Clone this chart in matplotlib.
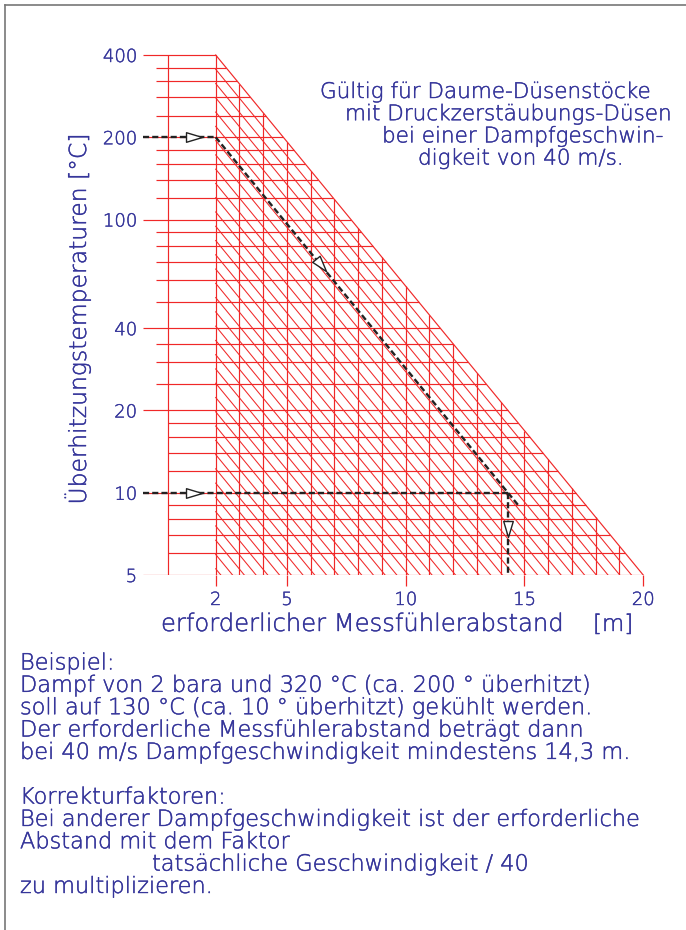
import numpy as np
import matplotlib
matplotlib.use("Agg")
import matplotlib.pyplot as plt
import matplotlib.patheffects as pe
from matplotlib.markers import MarkerStyle
from matplotlib.path import Path
from matplotlib.transforms import Affine2D
from matplotlib.lines import Line2D

# ---------------- data ----------------
temp_ticks = [5, 10, 20, 40, 100, 200, 400]
temp_tick_labels = ["5", "10", "20", "40", "100", "200", "400"]
dist_ticks = [2, 5, 10, 15, 20]
dist_tick_labels = ["2", "5", "10", "15", "20"]

grid_major_temps = [400, 200, 100, 40, 20, 10, 5]
grid_minor_upper = [360, 320, 280, 240, 180, 160, 140, 120,
                    90, 80, 70, 60, 50, 35, 30, 25]
grid_minor_lower = [18, 16, 14, 12, 9, 8, 7, 6]
grid_dists = [0, 2, 3, 4, 5, 6, 7, 8, 9, 10, 11, 12, 13, 14, 15, 16, 17, 18, 19, 20]

boundary_top = (2, 400)      # (distance m, temperature)
boundary_bottom = (20, 5)
hatch_spacing = 0.494        # m between hatch lines

example_in_temp = 200
example_out_temp = 10
example_end_temp = 9
example_arrow_dist = 1.08
example_diag_arrow_dist = 6.43
example_down_arrow_temp = 7.37

RED = "#f02828"
BLUE = "#35359a"
BLACK = "#222222"
FONT = "DejaVu Sans"
WEIGHT = 200
STROKE = [pe.withStroke(linewidth=0.3, foreground=BLUE)]

W, H = 686, 930
fig = plt.figure(figsize=(W / 100, H / 100), dpi=100)

# axes in pixel layout
ax_l, ax_r, ax_t, ax_b = 143, 660, 40, 575
ax = fig.add_axes([ax_l / W, 1 - ax_b / H, (ax_r - ax_l) / W, (ax_b - ax_t) / H])
ax.set_yscale("log")
px_per_m = 23.75
x0_px = 168.2
ax.set_xlim((ax_l - x0_px) / px_per_m, (ax_r - x0_px) / px_per_m)
dec_px = (575 - 55) / np.log10(400 / 5)
ax.set_ylim(5, 10 ** (np.log10(400) + (55 - ax_t) / dec_px))
for s in ax.spines.values():
    s.set_visible(False)
ax.set_facecolor("none")

xl = ax.get_xlim()[0]
k = (np.log10(boundary_top[1]) - np.log10(boundary_bottom[1])) / (boundary_bottom[0] - boundary_top[0])

def x_boundary(T):
    return boundary_top[0] + (np.log10(boundary_top[1]) - np.log10(T)) / k

def T_boundary(x):
    return boundary_top[1] * 10 ** (-k * (x - boundary_top[0]))

lw = 0.85
# horizontal grid lines
for T in grid_major_temps:
    ax.plot([xl, x_boundary(T)], [T, T], color=RED, lw=lw, zorder=1, solid_capstyle="butt")
for T in grid_minor_upper:
    ax.plot([-0.5, x_boundary(T)], [T, T], color=RED, lw=lw, zorder=1, solid_capstyle="butt")
for T in grid_minor_lower:
    ax.plot([0, x_boundary(T)], [T, T], color=RED, lw=lw, zorder=1, solid_capstyle="butt")

# vertical grid lines
for d in grid_dists:
    top = boundary_top[1] if d < boundary_top[0] else T_boundary(d)
    ax.plot([d, d], [boundary_bottom[1], top], color=RED, lw=lw, zorder=1, solid_capstyle="butt")

# boundary
ax.plot([boundary_top[0], boundary_bottom[0]], [boundary_top[1], boundary_bottom[1]],
        color=RED, lw=lw, zorder=1)

# hatch lines parallel to boundary
n = 1
while boundary_bottom[0] - n * hatch_spacing > boundary_top[0]:
    xe = boundary_bottom[0] - n * hatch_spacing
    ts = T_boundary(boundary_top[0] + n * hatch_spacing)
    ax.plot([boundary_top[0], xe], [ts, boundary_bottom[1]], color=RED, lw=0.75, zorder=1)
    n += 1

# x ticks (red tick marks) and y tick labels
ax.set_xticks(dist_ticks, dist_tick_labels)
ax.tick_params(axis="x", length=8.0, width=0.9, color=RED, direction="out",
               pad=3.5, labelsize=13, labelcolor=BLUE)
ax.set_yticks(temp_ticks, temp_tick_labels)
ax.yaxis.set_minor_locator(matplotlib.ticker.NullLocator())
ax.tick_params(axis="y", length=0, pad=4.3, labelsize=13, labelcolor=BLUE)
for lab in ax.get_xticklabels() + ax.get_yticklabels():
    lab.set_fontfamily(FONT)
    lab.set_fontweight(WEIGHT)
    lab.set_path_effects(STROKE)

# example path (dashed)
def x_example(T):
    return boundary_top[0] + (np.log10(example_in_temp) - np.log10(T)) / k

x_corner = x_example(example_out_temp)
dash = (0, (2.6, 1.3))
ex_lw = 1.7
ax.plot([xl, boundary_top[0]], [example_in_temp, example_in_temp], color=BLACK, lw=ex_lw, ls=dash, zorder=3)
ax.plot([boundary_top[0], x_example(example_end_temp)], [example_in_temp, example_end_temp],
        color=BLACK, lw=ex_lw, ls=dash, zorder=3)
ax.plot([xl, x_corner], [example_out_temp, example_out_temp], color=BLACK, lw=ex_lw, ls=dash, zorder=3)
ax.plot([x_corner, x_corner], [example_out_temp, boundary_bottom[1]], color=BLACK, lw=ex_lw, ls=dash, zorder=3)

# arrow heads
tri = Path([(-1, -0.6), (1, 0), (-1, 0.6), (-1, -0.6)],
           [Path.MOVETO, Path.LINETO, Path.LINETO, Path.CLOSEPOLY])
p1 = ax.transData.transform((boundary_top[0], example_in_temp))
p2 = ax.transData.transform((x_corner, example_out_temp))
ang = np.degrees(np.arctan2(p2[1] - p1[1], p2[0] - p1[0]))

def arrow(x, y, a):
    m = MarkerStyle(tri, transform=Affine2D().rotate_deg(a))
    ax.plot([x], [y], marker=m, ms=11.5, mfc="white", mec=BLACK, mew=1.0, ls="none", zorder=4)

arrow(example_arrow_dist, example_in_temp, 0)
arrow(example_arrow_dist, example_out_temp, 0)
arrow(example_diag_arrow_dist, 10 ** (np.log10(example_in_temp) - k * (example_diag_arrow_dist - boundary_top[0])), ang)
arrow(x_corner, example_down_arrow_temp, -90)

# ---------------- texts ----------------
def ftext(px, py, s, size, **kw):
    fig.text(px / W, 1 - py / H, s, fontsize=size, color=BLUE, family=FONT,
             fontweight=WEIGHT, path_effects=STROKE, **kw)

note = ["Gültig für Daume-Düsenstöcke",
        "mit Druckzerstäubungs-Düsen",
        "bei einer Dampfgeschwin-",
        "digkeit von 40 m/s."]
note_x = [320, 345, 382, 418]
for i, (s, x) in enumerate(zip(note, note_x)):
    ftext(x, 98 + 22.2 * i, s, 15.5, ha="left", va="baseline")

ftext(78, 319, "Überhitzungstemperaturen [°C]", 16.9, rotation=90, ha="center", va="center")
ftext(161, 631, "erforderlicher Messfühlerabstand", 17.45, ha="left", va="baseline")
ftext(593, 631, "[m]", 16.5, ha="left", va="baseline")

body = ["Beispiel:",
        "Dampf von 2 bara und 320 °C (ca. 200 ° überhitzt)",
        "soll auf 130 °C (ca. 10 ° überhitzt) gekühlt werden.",
        "Der erforderliche Messfühlerabstand beträgt dann",
        "bei 40 m/s Dampfgeschwindigkeit mindestens 14,3 m.",
        "",
        "Korrekturfaktoren:",
        "Bei anderer Dampfgeschwindigkeit ist der erforderliche",
        "Abstand mit dem Faktor",
        "            tatsächliche Geschwindigkeit / 40",
        "zu multiplizieren."]
for i, s in enumerate(body):
    if s.startswith(" "):
        ftext(152, 669.5 + 22.35 * i, s.strip(), 16.15, ha="left", va="baseline")
    elif s:
        ftext(20, 669.5 + 22.35 * i, s, 16.15, ha="left", va="baseline")

# frame
fig.add_artist(Line2D([5 / W, 5 / W], [0, 1 - 5 / H], color="#777777", lw=1.2))
fig.add_artist(Line2D([5 / W, 1], [1 - 5 / H, 1 - 5 / H], color="#777777", lw=1.2))

fig.savefig("out.png", dpi=100)
